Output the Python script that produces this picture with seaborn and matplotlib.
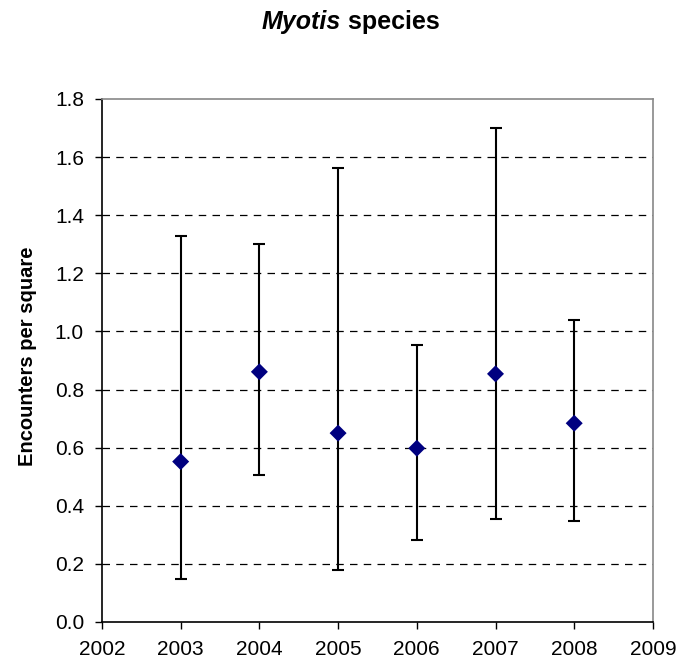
import matplotlib
matplotlib.use("Agg")
import matplotlib.pyplot as plt
import seaborn as sns
import numpy as np
import pandas as pd

years = [2003, 2004, 2005, 2006, 2007, 2008]
means = [0.552, 0.861, 0.650, 0.598, 0.854, 0.684]
lower = [0.147, 0.506, 0.179, 0.282, 0.354, 0.349]
upper = [1.329, 1.301, 1.563, 0.953, 1.701, 1.040]
x_ticks = [2002, 2003, 2004, 2005, 2006, 2007, 2008, 2009]
y_ticks = [0.0, 0.2, 0.4, 0.6, 0.8, 1.0, 1.2, 1.4, 1.6, 1.8]

sns.set_theme(style="white")
plt.rcParams['font.family'] = ['Liberation Sans', 'DejaVu Sans']
plt.rcParams['text.color'] = 'black'
plt.rcParams['axes.labelcolor'] = 'black'

df = pd.DataFrame({"year": years, "mean": means, "lower": lower, "upper": upper})

fig = plt.figure(figsize=(6.78, 6.68), dpi=100)
ax = fig.add_axes([0.1504, 0.0689, 0.963 - 0.1504, 0.8518 - 0.0689])

yerr = np.array([df["mean"] - df["lower"], df["upper"] - df["mean"]])
ax.errorbar(df["year"], df["mean"], yerr=yerr, fmt="none", ecolor="black",
            elinewidth=1.5, capsize=4, capthick=1.5, zorder=2)
sns.scatterplot(data=df, x="year", y="mean", marker="D", s=75, color="#000080",
                edgecolor="none", ax=ax, zorder=3)

fs = 15
ax.set_xlim(2002, 2009)
ax.set_ylim(0, 1.8)
ax.set_xticks(x_ticks)
ax.set_xticklabels([str(v) for v in x_ticks], fontsize=fs)
ax.set_yticks(y_ticks)
ax.set_yticklabels([f"{v:.1f}" for v in y_ticks], fontsize=fs)
for yv in y_ticks[1:-1]:
    ax.axhline(yv, color="black", linestyle=(0, (6, 5)), linewidth=0.9, zorder=1)

ax.set_xlabel("")
ax.set_ylabel("Encounters per square", fontsize=14.5, fontweight="bold", labelpad=16,
              color="black")
ax.yaxis.set_label_coords(-0.118, 0.5 + (361 - 357) / 523)

for side in ["left", "bottom"]:
    ax.spines[side].set_color("black")
    ax.spines[side].set_linewidth(1.2)
for side in ["top", "right"]:
    ax.spines[side].set_color("#888888")
    ax.spines[side].set_linewidth(1.2)
ax.tick_params(axis="both", direction="out", length=5, width=1.0, color="black",
               bottom=True, left=True, labelcolor="black")
ax.tick_params(axis="y", pad=8)
ax.tick_params(axis="x", pad=8)

# Title: italic "Myotis" + bold "species"
ty = 1 - 22 / 668
t1 = fig.text(0.5, ty, "Myotis", fontsize=18, fontweight="bold",
              fontstyle="italic", ha="left", va="center", color="black")
t2 = fig.text(0.5, ty, " species", fontsize=18, fontweight="bold",
              ha="left", va="center", color="black")
fig.canvas.draw()
r = fig.canvas.get_renderer()
w1 = t1.get_window_extent(r).width / fig.bbox.width
w2 = t2.get_window_extent(r).width / fig.bbox.width
start = 351 / 678 - (w1 + w2) / 2
t1.set_x(start)
t2.set_x(start + w1)

fig.savefig("out.png", dpi=100)
